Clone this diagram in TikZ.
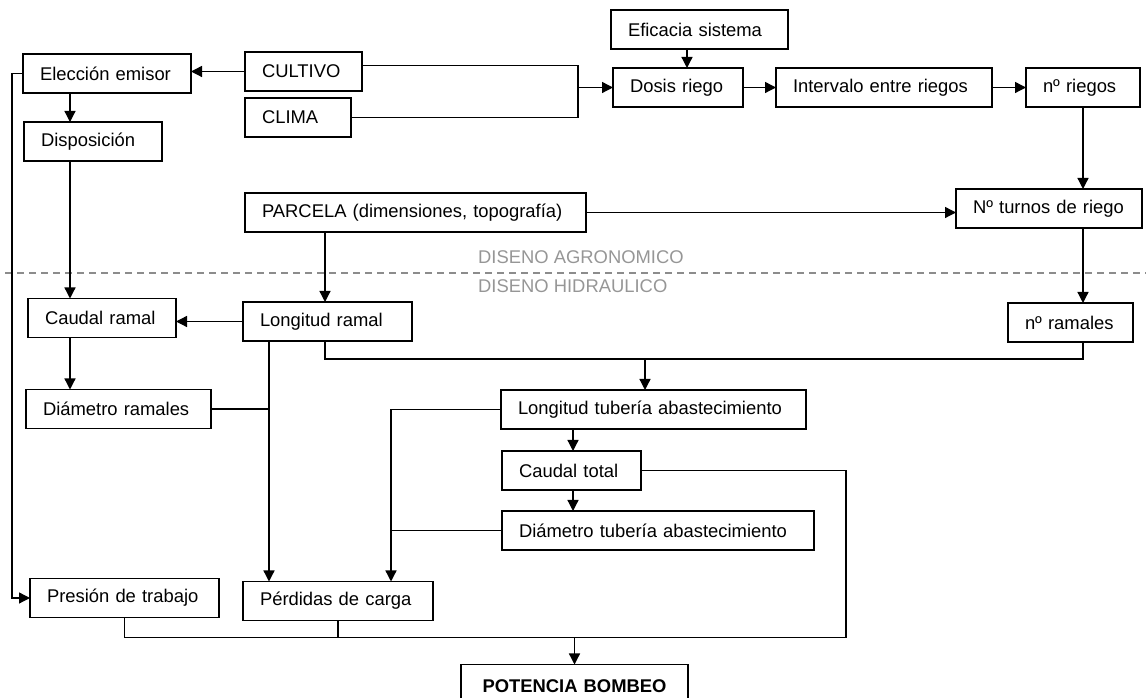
\documentclass[tikz,border=0pt]{standalone}
\usepackage{fontspec}
\setmainfont{Liberation Sans}
\definecolor{sepgray}{RGB}{140,140,140}
\definecolor{zonegray}{RGB}{150,150,150}
\usetikzlibrary{arrows.meta,positioning}

\begin{document}
\begin{tikzpicture}[x=1pt, y=1pt,
    arr/.style={-{Triangle[length=11pt,width=11pt]}, line width=1.3pt},
    wire/.style={line width=1.3pt},
    bx/.style={draw, line width=1.4pt, align=left, inner xsep=17pt, inner ysep=0pt,
               outer sep=0pt, minimum height=39pt, font=\fontsize{18.4pt}{22pt}\selectfont},
    divider/.style={draw=sepgray, line width=1.3pt, dash pattern=on 7pt off 5pt},
    zonelabel/.style={text=zonegray, inner sep=0pt, font=\fontsize{18.4pt}{22pt}\selectfont}
  ]
  \useasboundingbox (0,0) rectangle (1146,698);
  \clip (0,0) rectangle (1146,698);

  \node[bx, text width=134pt, anchor=north west] (elec) at (23,644) {Elección emisor};
  \node[bx, text width=104pt, below=29pt of elec.south west, anchor=north west, xshift=1pt] (disp) {Disposición};
  \node[bx, text width=83pt, right=54pt of elec.north east, anchor=north west, yshift=2pt] (cult) {CULTIVO};
  \node[bx, text width=72pt, below=7pt of cult.south west, anchor=north west] (clim) {CLIMA};
  \node[bx, text width=143pt, right=249pt of cult.north east, anchor=north west, yshift=42pt] (efic) {Eficacia sistema};
  \node[bx, text width=96pt, below=19pt of efic.south west, anchor=north west, xshift=2pt] (dosis) {Dosis riego};
  \node[bx, text width=182pt, right=33pt of dosis] (inter) {Intervalo entre riegos};
  \node[bx, text width=80pt, right=34pt of inter] (nrieg) {nº riegos};
  \node[bx, text width=307pt, below=56pt of clim.south west, anchor=north west] (parc) {PARCELA (dimensiones, topografía)};
  \node[bx, text width=152pt, right=370pt of parc, yshift=4pt] (turn) {Nº turnos de riego};
  \node[bx, text width=135pt, below=70pt of parc.south west, anchor=north west, xshift=-2pt] (lram) {Longitud ramal};
  \node[bx, text width=114pt, left=67pt of lram, yshift=3.5pt] (cram) {Caudal ramal};
  \node[bx, text width=151pt, below=52pt of cram.south west, anchor=north west, xshift=-2pt] (dram) {Diámetro ramales};
  \node[bx, text width=91pt, below=75pt of turn.south east, anchor=north east, xshift=-9pt] (nram) {nº ramales};
  \node[bx, text width=271pt, below=49pt of lram.south east, anchor=north west, xshift=89pt] (ltub) {Longitud tubería abastecimiento};
  \node[bx, text width=105pt, below=22pt of ltub.south west, anchor=north west, xshift=1pt] (ctot) {Caudal total};
  \node[bx, text width=278pt, below=21pt of ctot.south west, anchor=north west] (dtub) {Diámetro tubería abastecimiento};
  \node[bx, text width=155pt, below=150pt of dram.south west, anchor=north west, xshift=4pt] (pres) {Presión de trabajo};
  \node[bx, text width=156pt, right=24pt of pres.north east, anchor=north west, yshift=-3pt] (perd) {Pérdidas de carga};
  \node[bx, text width=193pt, align=center, minimum height=44pt, below=44pt of perd.south east, anchor=north west, xshift=28pt] (pot) {\textbf{POTENCIA BOMBEO}};

  \draw[divider] (5,425) -- (1146,425);
  \node[zonelabel, anchor=west] (agro) at (478,441) {DISENO AGRONOMICO};
  \node[zonelabel, anchor=west] (hidr) at (478,412) {DISENO HIDRAULICO};

  \coordinate (colA) at ([xshift=47pt]elec.south west);
  \draw[arr] (colA) -- (colA |- disp.north);
  \draw[arr] (colA |- disp.south) -- (colA |- cram.north);
  \draw[arr] (colA |- cram.south) -- (colA |- dram.north);
  \coordinate (rail) at ([xshift=-11pt]elec.west);
  \draw[arr] (elec.west) -- (rail) |- (pres.west);
  \draw[arr] (cult.west) -- (cult.west -| elec.east);
  \coordinate (brk) at ([xshift=216pt,yshift=6pt]cult.east);
  \draw[wire] (brk -| cult.east) -- (brk) |- (clim.east);
  \draw[arr] (brk |- dosis.west) -- (dosis.west);
  \coordinate (colF) at ([xshift=76pt]efic.south west);
  \draw[arr] (colF) -- (colF |- dosis.north);
  \draw[arr] (dosis) -- (inter);
  \draw[arr] (inter) -- (nrieg);
  \draw[arr] (nrieg.south) -- (nrieg.south |- turn.north);
  \draw[arr] (nrieg.south |- turn.south) -- (nrieg.south |- nram.north);
  \draw[arr] (parc.east) -- (parc.east -| turn.west);
  \coordinate (colD) at ([xshift=80pt]parc.south west);
  \draw[arr] (colD) -- (colD |- lram.north);
  \draw[arr] (lram.west) -- (lram.west -| cram.east);
  \coordinate (lramcut) at (colD |- lram.south);
  \coordinate (bus) at ([yshift=-18pt]lramcut);
  \draw[wire] (lramcut) -- (bus) -| (nrieg.south |- nram.south);
  \coordinate (colG) at ([xshift=144pt]ltub.north west);
  \draw[arr] (colG |- bus) -- (colG);
  \coordinate (colB) at ([xshift=26pt]lram.south west);
  \draw[arr] (colB) -- (colB |- perd.north);
  \draw[wire] (dram.east) -- (dram.east -| colB);
  \coordinate (colE) at ([xshift=-110pt]ltub.west);
  \draw[arr] (ltub.west) -- (colE) -- (colE |- perd.north);
  \draw[wire] (dtub.west) -- (dtub.west -| colE);
  \coordinate (colH) at ([xshift=72pt]ltub.south west);
  \draw[arr] (colH) -- (colH |- ctot.north);
  \draw[arr] (colH |- ctot.south) -- (colH |- dtub.north);
  \coordinate (colR) at ([xshift=205pt]ctot.east);
  \coordinate (bot) at ([yshift=-17pt]perd.south);
  \draw[wire] (ctot.east) -- (colR) |- (pres.south |- bot) -- (pres.south);
  \draw[wire] (perd.south) -- (perd.south |- bot);
  \draw[arr] (pot.north |- bot) -- (pot.north);
\end{tikzpicture}
\end{document}
